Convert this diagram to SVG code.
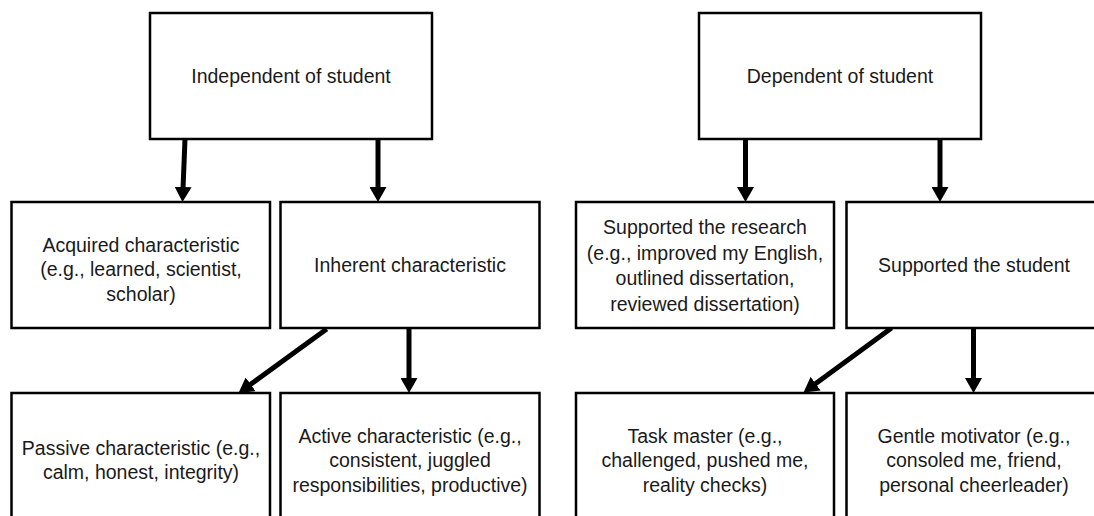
<svg xmlns="http://www.w3.org/2000/svg" width="1094" height="516" viewBox="0 0 1094 516">
<style>
.box{fill:#fff;stroke:#000;stroke-width:2.5}
.t{font-family:"Liberation Sans",Arial,sans-serif;font-size:19.5px;fill:#1a1a1a;text-anchor:middle}
.c{stroke:#000;stroke-width:5;fill:none;marker-end:url(#ah)}
</style>
<defs>
<marker id="ah" markerUnits="userSpaceOnUse" markerWidth="16" markerHeight="17" refX="7" refY="8.5" orient="auto" viewBox="0 0 16 17">
<path d="M0,0 L15,8.5 L0,17 z" fill="#000"/>
</marker>
</defs>
<rect width="1094" height="516" fill="#fff"/>
<g id="connectors">
<line class="c" x1="185" y1="139" x2="182.8" y2="194"/>
<line class="c" x1="378" y1="139" x2="378" y2="194"/>
<line class="c" x1="745.5" y1="137" x2="745.5" y2="194"/>
<line class="c" x1="940" y1="139" x2="940" y2="194"/>
<line class="c" x1="326.7" y1="329" x2="245" y2="388.4"/>
<line class="c" x1="409" y1="328" x2="409" y2="385"/>
<line class="c" x1="891.5" y1="328" x2="810" y2="387.8"/>
<line class="c" x1="973.5" y1="328" x2="973.5" y2="385"/>
</g>
<g id="independent">
<rect class="box" x="150" y="13" width="282" height="126"/>
<text class="t" x="291" y="83">Independent of student</text>
</g>
<g id="dependent">
<rect class="box" x="699" y="13" width="282" height="126"/>
<text class="t" x="840" y="83">Dependent of student</text>
</g>
<g id="acquired">
<rect class="box" x="11.5" y="202" width="258.5" height="126"/>
<text class="t" x="141" y="251.5">Acquired characteristic</text>
<text class="t" x="141" y="276">(e.g., learned, scientist,</text>
<text class="t" x="141" y="300.5">scholar)</text>
</g>
<g id="inherent">
<rect class="box" x="280.5" y="202" width="259" height="126"/>
<text class="t" x="410" y="272">Inherent characteristic</text>
</g>
<g id="research">
<rect class="box" x="576" y="202" width="258" height="126"/>
<text class="t" x="705" y="233.7">Supported the research</text>
<text class="t" x="705" y="259.5">(e.g., improved my English,</text>
<text class="t" x="705" y="285">outlined dissertation,</text>
<text class="t" x="705" y="310.5">reviewed dissertation)</text>
</g>
<g id="student">
<rect class="box" x="846.5" y="202" width="259" height="126"/>
<text class="t" x="974" y="272">Supported the student</text>
</g>
<g id="passive">
<rect class="box" x="11.5" y="393" width="258.5" height="126"/>
<text class="t" x="141" y="454.5">Passive characteristic (e.g.,</text>
<text class="t" x="141" y="479">calm, honest, integrity)</text>
</g>
<g id="active">
<rect class="box" x="280.5" y="393" width="259" height="126"/>
<text class="t" x="410" y="442.5">Active characteristic (e.g.,</text>
<text class="t" x="410" y="467">consistent, juggled</text>
<text class="t" x="410" y="491.5">responsibilities, productive)</text>
</g>
<g id="taskmaster">
<rect class="box" x="576" y="393" width="258" height="126"/>
<text class="t" x="705" y="442.5">Task master (e.g.,</text>
<text class="t" x="705" y="467">challenged, pushed me,</text>
<text class="t" x="705" y="491.5">reality checks)</text>
</g>
<g id="motivator">
<rect class="box" x="846.5" y="393" width="259" height="126"/>
<text class="t" x="974" y="442.5">Gentle motivator (e.g.,</text>
<text class="t" x="974" y="467">consoled me, friend,</text>
<text class="t" x="974" y="491.5">personal cheerleader)</text>
</g>
</svg>
